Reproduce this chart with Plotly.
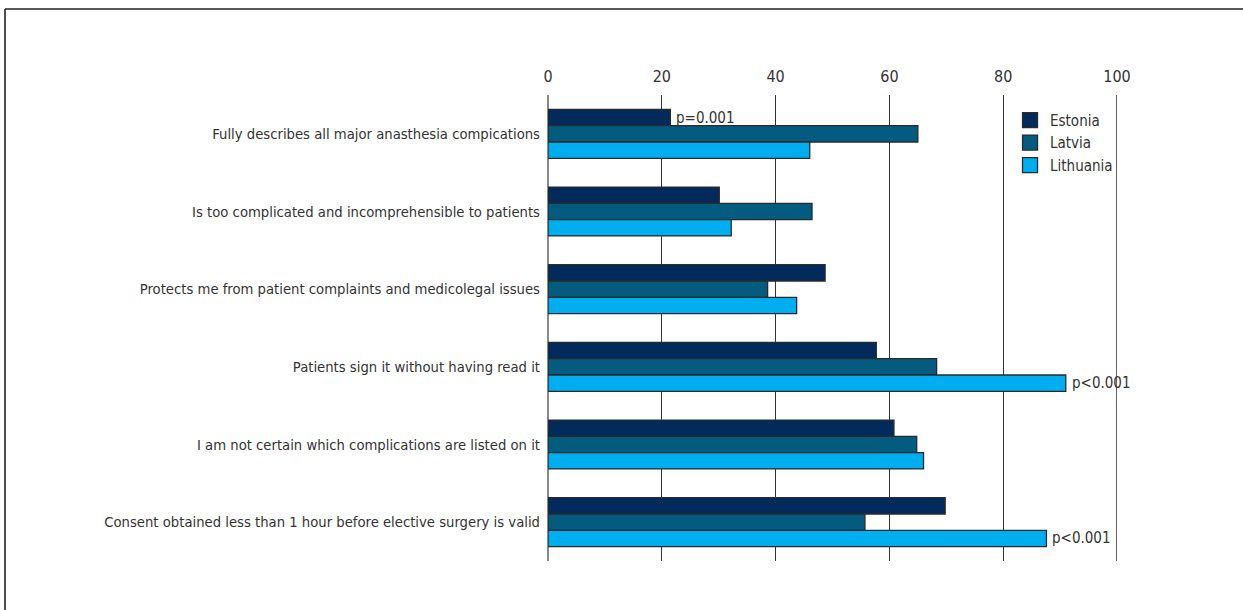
import plotly.graph_objects as go

categories = [
    "Fully describes all major anasthesia compications",
    "Is too complicated and incomprehensible to patients",
    "Protects me from patient complaints and medicolegal issues",
    "Patients sign it without having read it",
    "I am not certain which complications are listed on it",
    "Consent obtained less than 1 hour before elective surgery is valid",
]
estonia = [21.5, 30.1, 48.7, 57.7, 60.8, 69.8]
latvia = [65.0, 46.4, 38.6, 68.3, 64.8, 55.7]
lithuania = [46.0, 32.2, 43.7, 91.0, 66.0, 87.6]
x_ticks = [0, 20, 40, 60, 80, 100]

# p-value notes: (category index, series index, text)
p_notes = [(0, 0, "p=0.001"), (3, 2, "p<0.001"), (5, 2, "p<0.001")]

series = [("Estonia", estonia, "#022a5a"), ("Latvia", latvia, "#035b80"), ("Lithuania", lithuania, "#00aeef")]

FONT = "DejaVu Sans Condensed, sans-serif"
TXT = "#333333"
BARGAP = 0.37
OUTLINE = "#2a2a2a"

fig = go.Figure()
for name, vals, col in series:
    fig.add_trace(go.Bar(
        y=list(range(len(categories))), x=vals, name=name, orientation="h",
        marker=dict(color=col, line=dict(color=OUTLINE, width=1.3)),
        showlegend=False,
    ))
# legend entries with larger square swatches
for name, vals, col in series:
    fig.add_trace(go.Scatter(
        x=[None], y=[None], mode="markers", name=name,
        marker=dict(symbol="square", size=15, color=col, line=dict(color=OUTLINE, width=1.3)),
    ))

bw = (1 - BARGAP) / 3
for ci, si, txt in p_notes:
    val = series[si][1][ci]
    fig.add_annotation(
        x=val, y=ci + (si - 1) * bw, xref="x", yref="y", text=txt,
        showarrow=False, xanchor="left", yanchor="middle", xshift=4,
        font=dict(family=FONT, size=15, color=TXT),
    )

# gridline at the right edge (100)
fig.add_shape(type="line", xref="x", yref="paper", x0=100, x1=100, y0=0, y1=1,
              line=dict(color="#222222", width=1.4))
# frame (only left and top edges visible)
fig.add_shape(type="line", xref="paper", yref="paper", x0=-0.9543, x1=1.5, y0=1.1845, y1=1.1845,
              line=dict(color="#222222", width=1.6))
fig.add_shape(type="line", xref="paper", yref="paper", x0=-0.9543, x1=-0.9543, y0=1.1845, y1=-0.5,
              line=dict(color="#222222", width=1.6))

fig.update_layout(
    width=1243, height=610,
    margin=dict(l=548, r=126, t=95, b=49),
    paper_bgcolor="white", plot_bgcolor="white",
    barmode="group", bargap=BARGAP, bargroupgap=0,
    font=dict(family=FONT, size=15, color=TXT),
    showlegend=True,
    legend=dict(x=0.812, y=0.981, xanchor="left", yanchor="top",
                font=dict(family=FONT, size=15, color=TXT),
                bgcolor="rgba(0,0,0,0)", tracegroupgap=0),
    xaxis=dict(
        side="top", range=[0, 100], tickvals=x_ticks, ticktext=[str(v) for v in x_ticks],
        showgrid=True, gridcolor="#333333", gridwidth=1,
        zeroline=True, zerolinecolor="#888888", zerolinewidth=1.5,
        ticks="", showline=False, tickfont=dict(size=16, color=TXT),
        ticklabelstandoff=9, fixedrange=True,
    ),
    yaxis=dict(
        tickvals=list(range(len(categories))), ticktext=categories,
        range=[len(categories) - 0.5, -0.5],
        showgrid=False, zeroline=False, ticks="", showline=False,
        tickfont=dict(size=14.7, color=TXT), ticklabelstandoff=7, fixedrange=True,
    ),
)

fig.write_html("out.html", config={"displayModeBar": False},
               post_script="document.body.style.margin='0';")
